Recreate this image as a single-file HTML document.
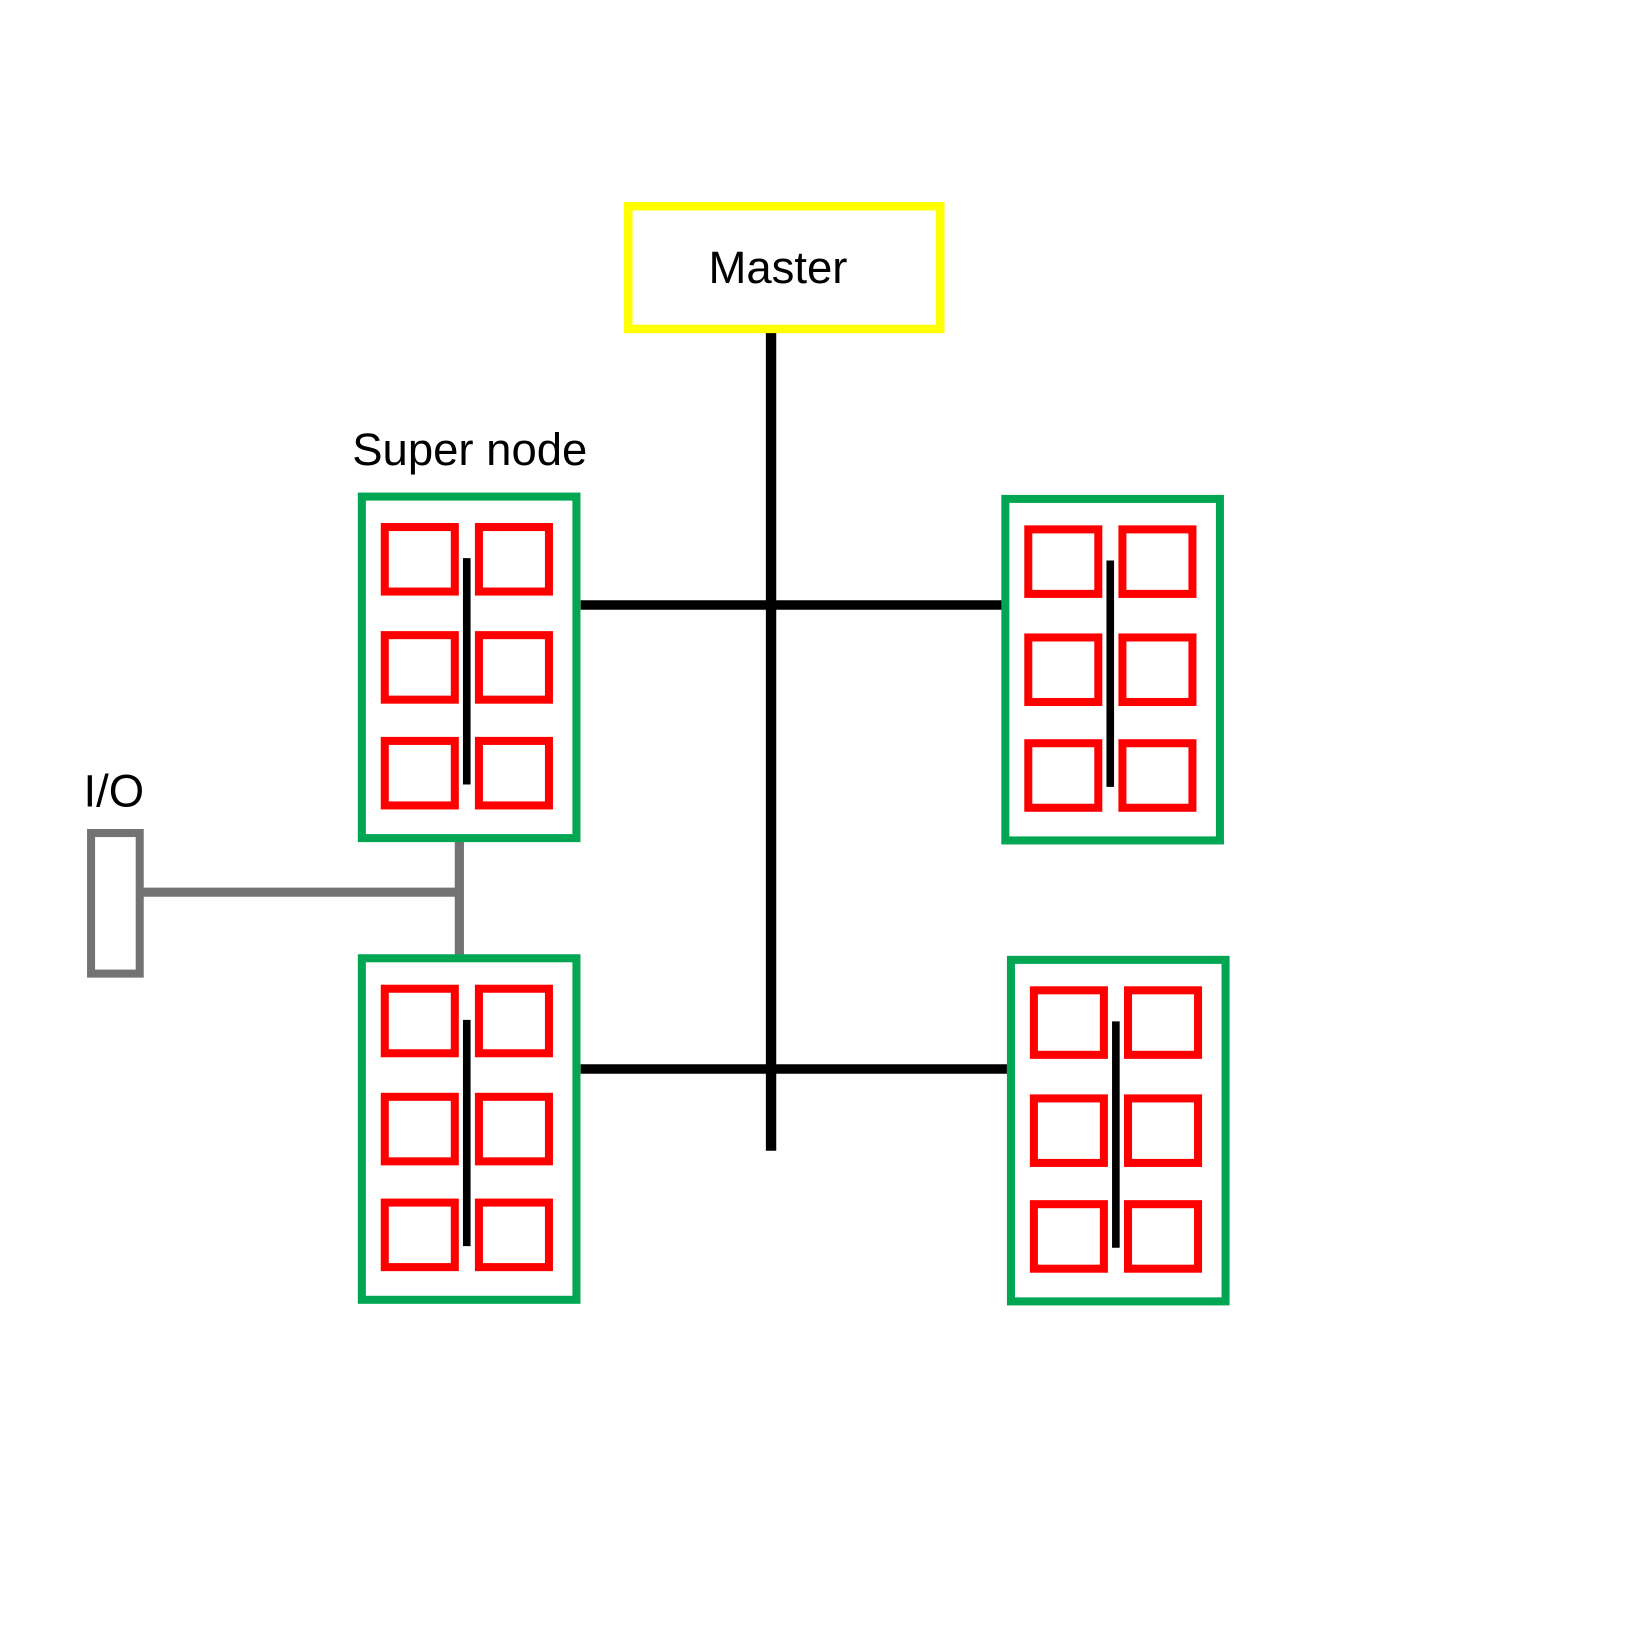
<!DOCTYPE html>
<html><head><meta charset="utf-8"><style>
html,body{margin:0;padding:0;background:#fff;}
svg{display:block;}
text{font-family:"Liberation Sans",Arial,sans-serif;fill:#000;}
</style></head>
<body>
<svg id="diagram" width="1650" height="1650" viewBox="0 0 1560 1560" xmlns="http://www.w3.org/2000/svg">
  <rect x="594" y="195" width="295" height="116" fill="#fff" stroke="#ffff00" stroke-width="8"/>
  <text x="735.5" y="267.6" font-size="43" text-anchor="middle">Master</text>
  <line x1="729" y1="315" x2="729" y2="1088" stroke="#000" stroke-width="9.8"/>
  <line x1="549" y1="572" x2="947" y2="572" stroke="#000" stroke-width="9"/>
  <line x1="549" y1="1010.7" x2="952" y2="1010.7" stroke="#000" stroke-width="9"/>
  <text x="333" y="439.4" font-size="43">Super node</text>
  <text x="79" y="762.7" font-size="43">I/O</text>
  <line x1="134" y1="843.5" x2="434.3" y2="843.5" stroke="#737373" stroke-width="8.7"/>
  <line x1="434.3" y1="795" x2="434.3" y2="904" stroke="#737373" stroke-width="8.7"/>
  <rect x="86.1" y="787.6" width="46" height="132.9" fill="#fff" stroke="#737373" stroke-width="7.6"/>
  <g id="nodes"></g>
</svg>
<script>
const nodeNames = ['super-node-top-left','super-node-top-right','super-node-bottom-left','super-node-bottom-right'];
const nodeX = [338.3, 946.7, 338.3, 952];
const nodeY = [465.7, 467.9, 902.2, 903.7];
const NS = 'http://www.w3.org/2000/svg';
const g = document.getElementById('nodes');
function mk(tag, attrs){const e=document.createElementNS(NS,tag);for(const k in attrs)e.setAttribute(k,attrs[k]);return e;}
const cols = [25.5, 114.5];
const rows = [32.6, 134.8, 234.8];
for (let i=0;i<nodeNames.length;i++){
  const ox=nodeX[i], oy=nodeY[i];
  const grp=mk('g',{});
  
  
  const box=mk('rect',{x:ox+3.8,y:oy+3.8,width:202.9,height:322.9,fill:'#fff',stroke:'#00a651','stroke-width':7.6});
  
  
  grp.appendChild(box);
  for (let r=0;r<3;r++) for (let c=0;c<2;c++){
    const cpu=mk('rect',{x:ox+cols[c],y:oy+rows[r],width:66.2,height:61,fill:'#fff',stroke:'#ff0000','stroke-width':7.6});
    
    
    grp.appendChild(cpu);
  }
  const bus=mk('line',{x1:ox+103,y1:oy+62,x2:ox+103,y2:oy+276,stroke:'#000','stroke-width':7.2});
  
  
  grp.appendChild(bus);
  g.appendChild(grp);
}
</script>
</body></html>
